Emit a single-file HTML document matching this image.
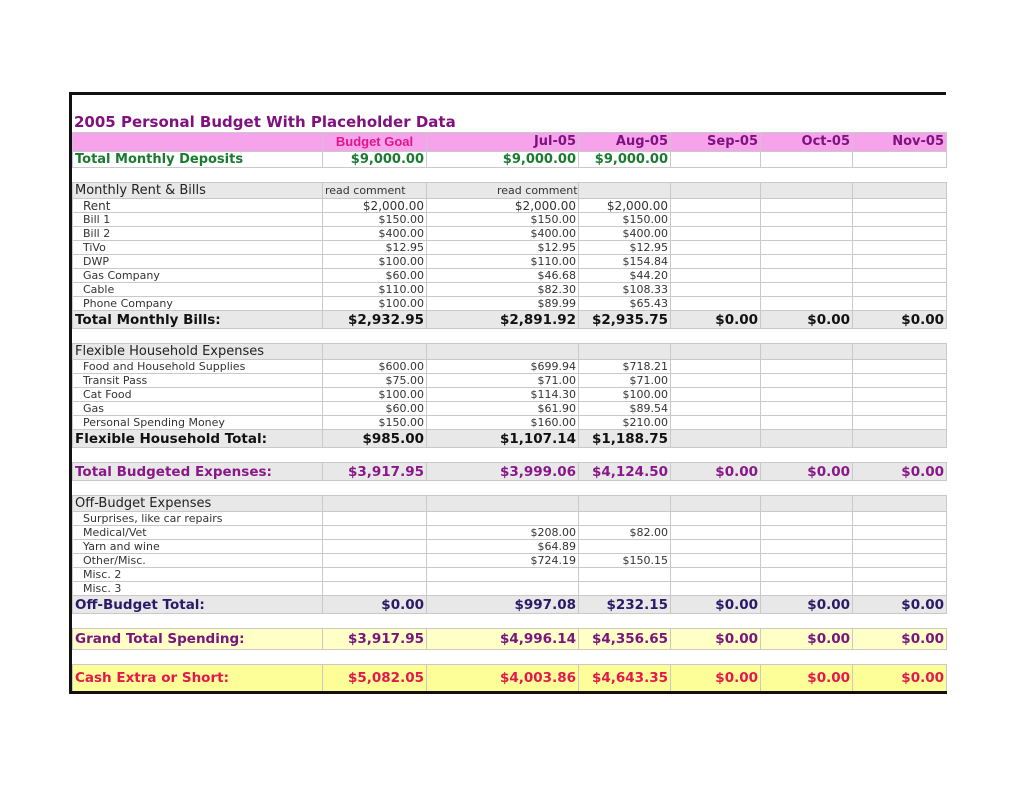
<!DOCTYPE html>
<html><head><meta charset="utf-8"><style>
body{margin:0;width:1024px;height:791px;background:#fff;position:relative;overflow:hidden;font-family:"DejaVu Sans","Liberation Sans",sans-serif;}
#frame{position:absolute;left:69px;top:92px;width:877px;height:602px;border-left:3px solid #111;border-top:3px solid #111;box-sizing:border-box;}
#title{position:absolute;left:74px;top:113px;font-size:15px;font-weight:bold;color:#80127f;white-space:nowrap;}
table{position:absolute;left:72px;top:132px;border-collapse:collapse;table-layout:fixed;width:874px;}
td{padding:0 2px;white-space:nowrap;overflow:hidden;border:1px solid #c9c9c9;font-size:11px;color:#333;text-align:right;line-height:12px;}
td:first-child{text-align:left;padding-left:10px;}
tr.h td{background:#f7a3ec;font-weight:bold;font-size:13px;color:#80127f;height:18px;}
tr.h td.bg{color:#e0158a;font-family:"Liberation Sans",sans-serif;font-size:13px;}
tr.dep td{font-weight:bold;font-size:13px;color:#1a7a30;height:15px;}
tr.dep td:first-child{padding-left:2px;}
tr.b td{border:none;height:14px;background:#fff;}
tr.s td{background:#e8e8e8;height:15px;}
tr.s td:first-child{font-size:13px;padding-left:2px;color:#222;}
tr.r td{height:13px;}
tr.t td{background:#e8e8e8;font-weight:bold;font-size:13.5px;color:#111;height:17px;}
tr.t td:first-child{padding-left:2px;}
tr.tb td{color:#8a178a;}
tr.ob td{color:#2b1a68;}
tr.g td{background:#ffffc6;color:#7a1580;height:20px;}
tr.c td{background:#fefe98;color:#e4184e;height:26px;}
tr.c{border-bottom:3px solid #111;}
</style></head><body>
<div id="frame"></div>
<div id="title">2005 Personal Budget With Placeholder Data</div>
<table>
<colgroup><col style="width:250px"><col style="width:104px"><col style="width:152px"><col style="width:92px"><col style="width:90px"><col style="width:92px"><col style="width:94px"></colgroup>
<tr class="h"><td></td><td class="bg" style="text-align:center">Budget Goal</td><td>Jul-05</td><td>Aug-05</td><td>Sep-05</td><td>Oct-05</td><td>Nov-05</td></tr>
<tr class="dep"><td>Total Monthly Deposits</td><td>$9,000.00</td><td>$9,000.00</td><td>$9,000.00</td><td></td><td></td><td></td></tr>
<tr class="b"><td colspan="7"></td></tr>
<tr class="s"><td>Monthly Rent &amp; Bills</td><td style="text-align:left">read comment</td><td style="text-align:center;padding-left:70px">read comment</td><td></td><td></td><td></td><td></td></tr>
<tr class="r"><td style="font-size:12px">Rent</td><td style="font-size:12px">$2,000.00</td><td style="font-size:12px">$2,000.00</td><td style="font-size:12px">$2,000.00</td><td></td><td></td><td></td></tr>
<tr class="r"><td>Bill 1</td><td>$150.00</td><td>$150.00</td><td>$150.00</td><td></td><td></td><td></td></tr>
<tr class="r"><td>Bill 2</td><td>$400.00</td><td>$400.00</td><td>$400.00</td><td></td><td></td><td></td></tr>
<tr class="r"><td>TiVo</td><td>$12.95</td><td>$12.95</td><td>$12.95</td><td></td><td></td><td></td></tr>
<tr class="r"><td>DWP</td><td>$100.00</td><td>$110.00</td><td>$154.84</td><td></td><td></td><td></td></tr>
<tr class="r"><td>Gas Company</td><td>$60.00</td><td>$46.68</td><td>$44.20</td><td></td><td></td><td></td></tr>
<tr class="r"><td>Cable</td><td>$110.00</td><td>$82.30</td><td>$108.33</td><td></td><td></td><td></td></tr>
<tr class="r"><td>Phone Company</td><td>$100.00</td><td>$89.99</td><td>$65.43</td><td></td><td></td><td></td></tr>
<tr class="t"><td>Total Monthly Bills:</td><td>$2,932.95</td><td>$2,891.92</td><td>$2,935.75</td><td>$0.00</td><td>$0.00</td><td>$0.00</td></tr>
<tr class="b"><td colspan="7"></td></tr>
<tr class="s"><td>Flexible Household Expenses</td><td></td><td></td><td></td><td></td><td></td><td></td></tr>
<tr class="r"><td>Food and Household Supplies</td><td>$600.00</td><td>$699.94</td><td>$718.21</td><td></td><td></td><td></td></tr>
<tr class="r"><td>Transit Pass</td><td>$75.00</td><td>$71.00</td><td>$71.00</td><td></td><td></td><td></td></tr>
<tr class="r"><td>Cat Food</td><td>$100.00</td><td>$114.30</td><td>$100.00</td><td></td><td></td><td></td></tr>
<tr class="r"><td>Gas</td><td>$60.00</td><td>$61.90</td><td>$89.54</td><td></td><td></td><td></td></tr>
<tr class="r"><td>Personal Spending Money</td><td>$150.00</td><td>$160.00</td><td>$210.00</td><td></td><td></td><td></td></tr>
<tr class="t"><td>Flexible Household Total:</td><td>$985.00</td><td>$1,107.14</td><td>$1,188.75</td><td></td><td></td><td></td></tr>
<tr class="b"><td colspan="7"></td></tr>
<tr class="t tb"><td>Total Budgeted Expenses:</td><td>$3,917.95</td><td>$3,999.06</td><td>$4,124.50</td><td>$0.00</td><td>$0.00</td><td>$0.00</td></tr>
<tr class="b"><td colspan="7"></td></tr>
<tr class="s"><td>Off-Budget Expenses</td><td></td><td></td><td></td><td></td><td></td><td></td></tr>
<tr class="r"><td>Surprises, like car repairs</td><td></td><td></td><td></td><td></td><td></td><td></td></tr>
<tr class="r"><td>Medical/Vet</td><td></td><td>$208.00</td><td>$82.00</td><td></td><td></td><td></td></tr>
<tr class="r"><td>Yarn and wine</td><td></td><td>$64.89</td><td></td><td></td><td></td><td></td></tr>
<tr class="r"><td>Other/Misc.</td><td></td><td>$724.19</td><td>$150.15</td><td></td><td></td><td></td></tr>
<tr class="r"><td>Misc. 2</td><td></td><td></td><td></td><td></td><td></td><td></td></tr>
<tr class="r"><td>Misc. 3</td><td></td><td></td><td></td><td></td><td></td><td></td></tr>
<tr class="t ob"><td>Off-Budget Total:</td><td>$0.00</td><td>$997.08</td><td>$232.15</td><td>$0.00</td><td>$0.00</td><td>$0.00</td></tr>
<tr class="b"><td colspan="7"></td></tr>
<tr class="t g"><td>Grand Total Spending:</td><td>$3,917.95</td><td>$4,996.14</td><td>$4,356.65</td><td>$0.00</td><td>$0.00</td><td>$0.00</td></tr>
<tr class="b"><td colspan="7"></td></tr>
<tr class="t c"><td>Cash Extra or Short:</td><td>$5,082.05</td><td>$4,003.86</td><td>$4,643.35</td><td>$0.00</td><td>$0.00</td><td>$0.00</td></tr>
</table>
</body></html>
